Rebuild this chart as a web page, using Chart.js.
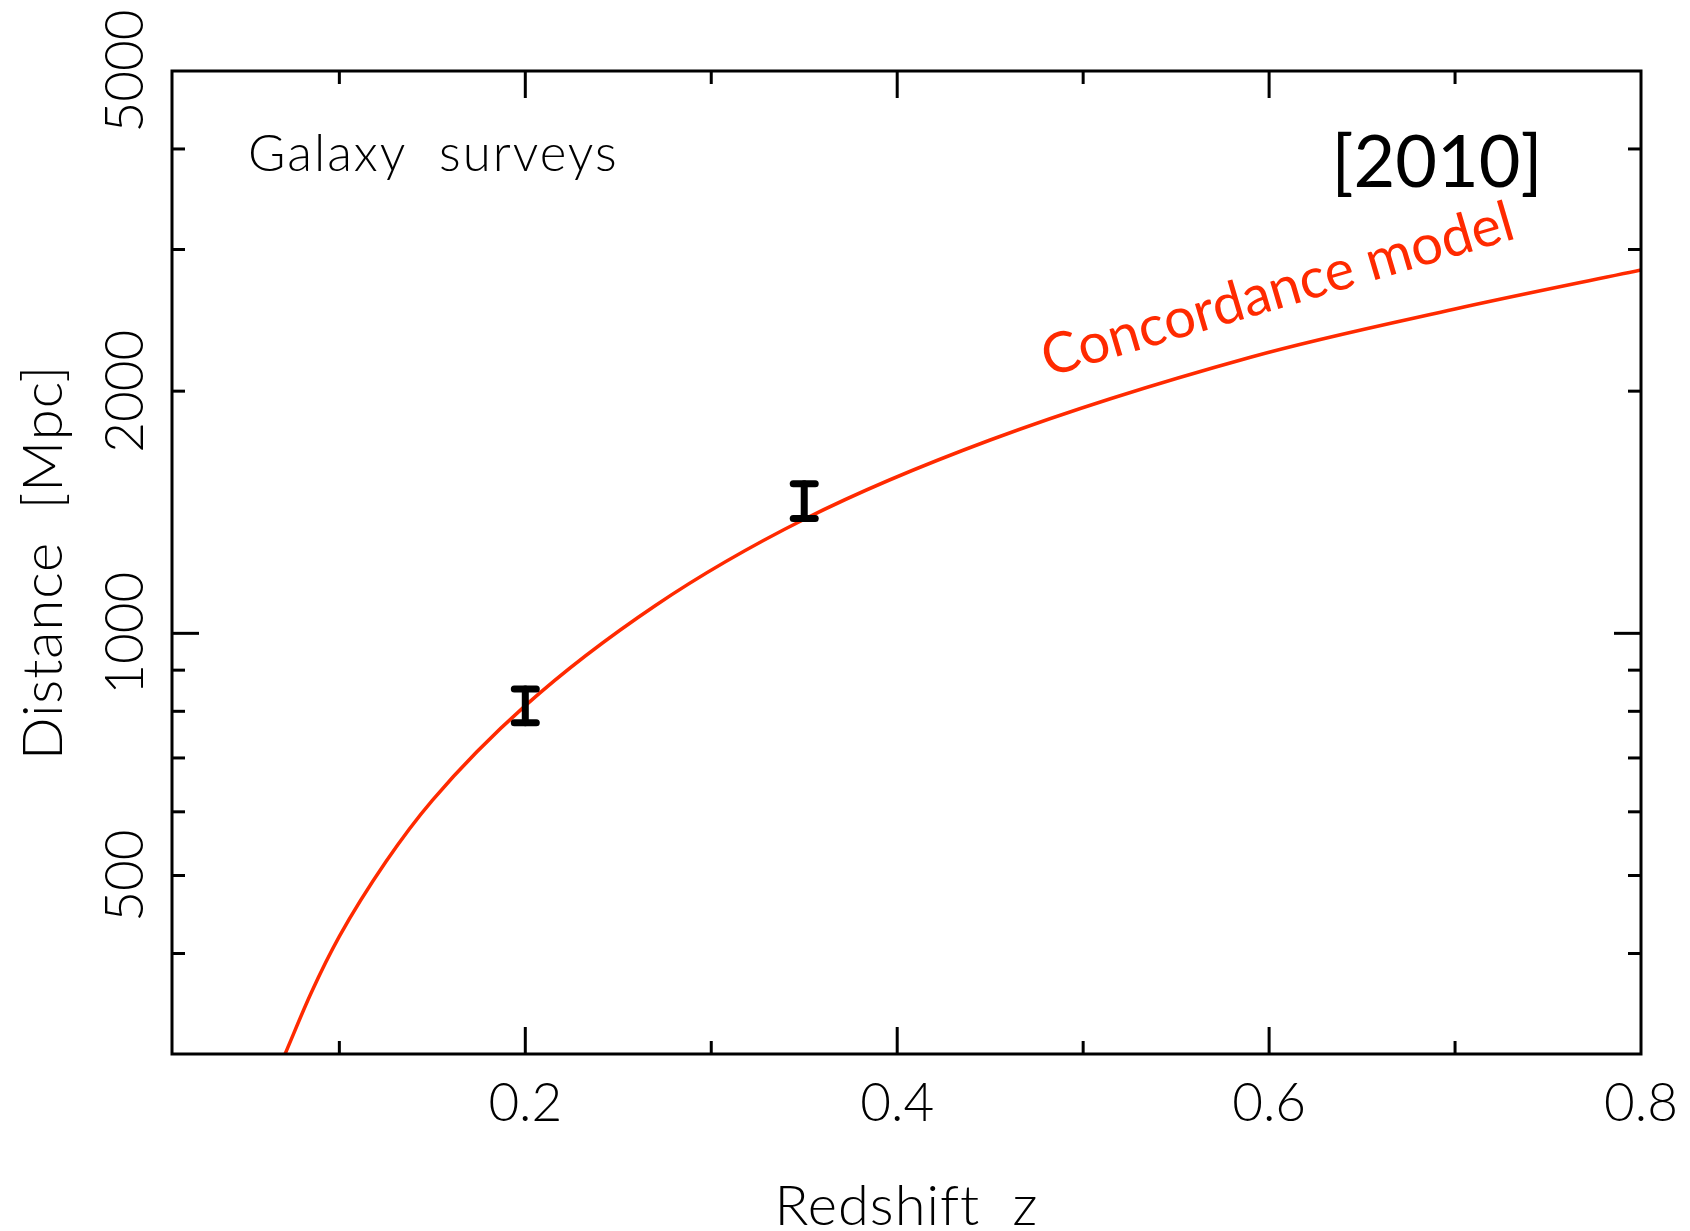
<!DOCTYPE html>
<html>
<head>
<meta charset="utf-8">
<title>Galaxy surveys [2010]</title>
<script src="https://cdn.jsdelivr.net/npm/chart.js@4.4.1/dist/chart.umd.min.js"></script>
<style>
  html, body { margin: 0; padding: 0; background: #fff; }
  canvas { display: block; }
</style>
</head>
<body>
<canvas id="distanceChart" width="1690" height="1231"></canvas>
<script>
// Concordance model curve (redshift z, distance in Mpc)
const modelZ = [0.0708, 0.085, 0.10, 0.125, 0.15, 0.20, 0.27, 0.35, 0.45, 0.59, 0.70, 0.80];
const modelD = [300, 358, 420, 520, 620, 813, 1083, 1386, 1739, 2204, 2530, 2829];

// galaxy survey measurements (error bar ends)
const surveyZ = [0.2, 0.35];
const surveyLow = [774, 1389];
const surveyHigh = [853, 1534];

// axes
const xMin = 0.01, xMax = 0.8;
const yMin = 300, yMax = 5000;
const xTicks = [0.1, 0.2, 0.3, 0.4, 0.5, 0.6, 0.7];
const xLabels = [0.2, 0.4, 0.6, 0.8];
const yTicks = [400, 500, 600, 700, 800, 900, 1000, 2000, 3000, 4000];
const yMajor = [1000];
const yLabels = [500, 1000, 2000, 5000];

const RED = '#ff2a00';
const PLOT_FONT = 'Lato';

// each error bar is two points plus a gap so the segments don't join up
const barPoints = [];
surveyZ.forEach((z, i) => {
    barPoints.push({ x: z, y: surveyLow[i] }, { x: z, y: surveyHigh[i] }, { x: z, y: null });
});

const modelPoints = modelZ.map((z, i) => ({ x: z, y: modelD[i] }));

function strokeLine(ctx, x1, y1, x2, y2) {
    ctx.beginPath();
    ctx.moveTo(x1, y1);
    ctx.lineTo(x2, y2);
    ctx.stroke();
}

function drawText(ctx, str, x, y, font, color, angle, align, spacing) {
    ctx.save();
    ctx.translate(x, y);
    if (angle) ctx.rotate(angle);
    ctx.font = font;
    ctx.fillStyle = color;
    ctx.textAlign = align || 'center';
    ctx.textBaseline = 'alphabetic';
    ctx.letterSpacing = spacing || '0px';
    ctx.fillText(str, 0, 0);
    ctx.restore();
}

// frame, inward ticks and all the text
const framePlugin = {
    id: 'frame',
    beforeDatasetsDraw(chart) {
        chart.ctx.lineCap = 'round'; // rounded error bar caps
    },
    afterDatasetsDraw(chart) {
        const ctx = chart.ctx;
        const xs = chart.scales.x;
        const ys = chart.scales.y;
        const { left, right, top, bottom } = chart.chartArea;

        ctx.save();
        ctx.lineCap = 'butt';
        ctx.strokeStyle = '#000';
        ctx.lineWidth = 3;

        xTicks.forEach(v => {
            const px = xs.getPixelForValue(v);
            const len = xLabels.includes(v) ? 27 : 13;
            strokeLine(ctx, px, bottom, px, bottom - len);
            strokeLine(ctx, px, top, px, top + len);
        });
        yTicks.forEach(v => {
            const py = ys.getPixelForValue(v);
            const len = yMajor.includes(v) ? 27 : 13;
            strokeLine(ctx, left, py, left + len, py);
            strokeLine(ctx, right, py, right - len, py);
        });
        ctx.strokeRect(left, top, right - left, bottom - top);
        ctx.restore();

        // tick labels
        xLabels.forEach(v => {
            drawText(ctx, String(v), xs.getPixelForValue(v), bottom + 67, '300 53px ' + PLOT_FONT, '#000');
        });
        yLabels.forEach(v => {
            drawText(ctx, String(v), left - 29, ys.getPixelForValue(v), '300 53px ' + PLOT_FONT, '#000', -Math.PI / 2);
        });

        // axis titles
        drawText(ctx, 'Redshift  z', (left + right) / 2, 1225, '300 56px ' + PLOT_FONT, '#000', 0, 'center', '1px');
        drawText(ctx, 'Distance  [Mpc]', 62, (top + bottom) / 2, '300 56px ' + PLOT_FONT, '#000', -Math.PI / 2, 'center', '1px');

        // annotations
        drawText(ctx, 'Galaxy  surveys', 248, 171, '300 51px ' + PLOT_FONT, '#000', 0, 'left', '2px');
        drawText(ctx, '[2010]', 1437, 187, '72px ' + PLOT_FONT, '#000');
        drawText(ctx, 'Concordance model', 1048, 377, '56px ' + PLOT_FONT, RED, -16.5 * Math.PI / 180, 'left');
    }
};

const ctx = document.getElementById('distanceChart').getContext('2d');
const distanceChart = new Chart(ctx, {
    type: 'line',
    data: {
        datasets: [
            {
                label: 'Galaxy surveys',
                data: barPoints,
                borderColor: '#000',
                borderWidth: 7,
                borderCapStyle: 'round',
                spanGaps: false,
                pointStyle: 'line',
                pointRadius: 11,
                pointBorderWidth: 7,
                pointBorderColor: '#000',
                pointBackgroundColor: '#000',
                order: 0
            },
            {
                label: 'Concordance model',
                data: modelPoints,
                borderColor: RED,
                borderWidth: 3.5,
                cubicInterpolationMode: 'monotone',
                pointRadius: 0,
                order: 1
            }
        ]
    },
    options: {
        responsive: false,
        animation: false,
        events: [],
        layout: {
            padding: { left: 172, top: 71, right: 49, bottom: 177 }
        },
        plugins: {
            legend: { display: false },
            tooltip: { enabled: false }
        },
        scales: {
            x: { type: 'linear', min: xMin, max: xMax, display: false },
            y: { type: 'logarithmic', min: yMin, max: yMax, display: false }
        }
    },
    plugins: [framePlugin]
});
</script>
</body>
</html>
